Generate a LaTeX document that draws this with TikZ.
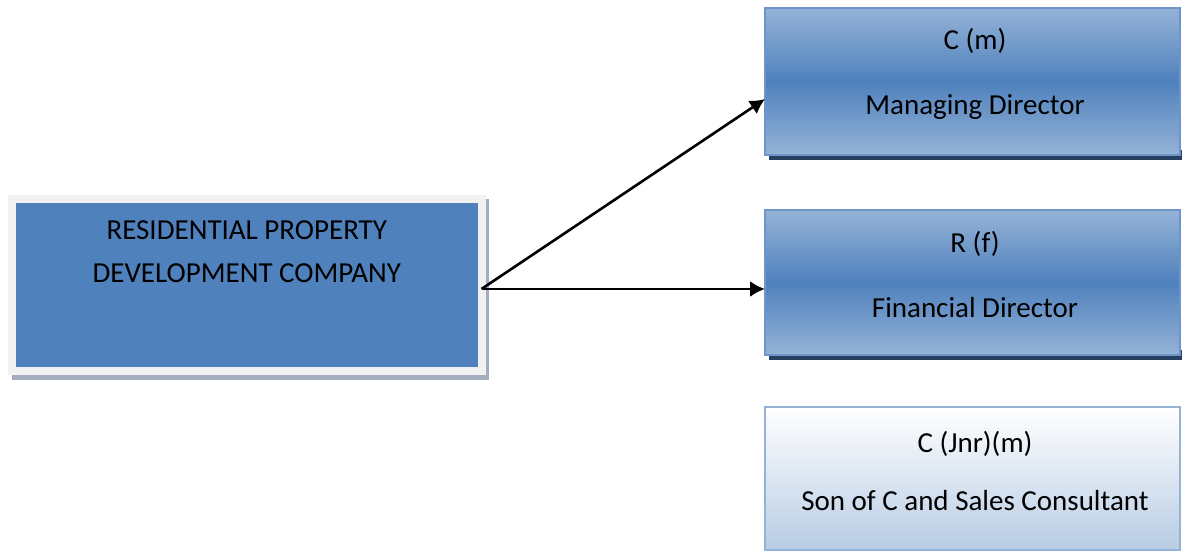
\documentclass[tikz,border=0pt]{standalone}
\usepackage{fontspec}
\setmainfont{Carlito}
\usetikzlibrary{arrows.meta}
\definecolor{corpblue}{HTML}{4F81BD}
\definecolor{framegray}{HTML}{F2F2F2}
\definecolor{softshadow}{HTML}{A3ADBE}
\definecolor{lightblue}{HTML}{95B3D7}
\definecolor{edgeblue}{HTML}{6F95C8}
\definecolor{navyshadow}{HTML}{243F60}
\definecolor{paleblue}{HTML}{B8CCE4}
\definecolor{paleedge}{HTML}{95B3D7}
\begin{document}
\begin{tikzpicture}[x=1pt,y=-1pt,
  txt/.style={font=\fontsize{29}{35}\selectfont, anchor=base, inner sep=0pt},
  companybox/.style={draw=framegray, line width=8pt, fill=corpblue, outer sep=0pt,
    minimum width=469.5pt, minimum height=172pt, inner sep=0pt},
  rolebox/.style={draw=edgeblue, line width=1.5pt, outer sep=0pt, inner sep=0pt,
    minimum width=415pt, top color=lightblue, bottom color=lightblue, middle color=corpblue},
  palebox/.style={draw=paleedge, line width=1.5pt, outer sep=0pt, inner sep=0pt,
    minimum width=415pt, top color=white, bottom color=paleblue},
  link/.style={line width=2.6pt, -{Latex[length=15pt,width=16pt]}}]
\useasboundingbox (0,0) rectangle (1182,553);

% shadows behind the boxes
\fill[softshadow] (12,199) rectangle (489,380);
\fill[navyshadow] (769,150) rectangle (1182,160);
\fill[navyshadow] (769,350) rectangle (1182,360);

% company
\node[companybox] (company) at (246.75,285) {};
\node[txt] (companyA) at (246.75,240) {RESIDENTIAL PROPERTY};
\node[txt] (companyB) at (246.75,282) {DEVELOPMENT COMPANY};

% directors and consultant
\node[rolebox, minimum height=147pt] (md) at (972.5,81.5) {};
\node[txt] (mdA) at (975,50) {C (m)};
\node[txt] (mdB) at (975,115) {Managing Director};

\node[rolebox, minimum height=145pt] (fd) at (972.5,282.5) {};
\node[txt] (fdA) at (975,252) {R (f)};
\node[txt] (fdB) at (975,317) {Financial Director};

\node[palebox, minimum height=143pt] (sc) at (972.5,478.5) {};
\node[txt] (scA) at (975,452) {C (Jnr)(m)};
\node[txt] (scB) at (975,510) {Son of C and Sales Consultant};

% connectors
\coordinate (start) at ([yshift=-4pt]company.east);
\draw[link] (start) -- ([yshift=-17.5pt]md.west);
\draw[link] (start) -- ([yshift=-6.5pt]fd.west);
\end{tikzpicture}
\end{document}
